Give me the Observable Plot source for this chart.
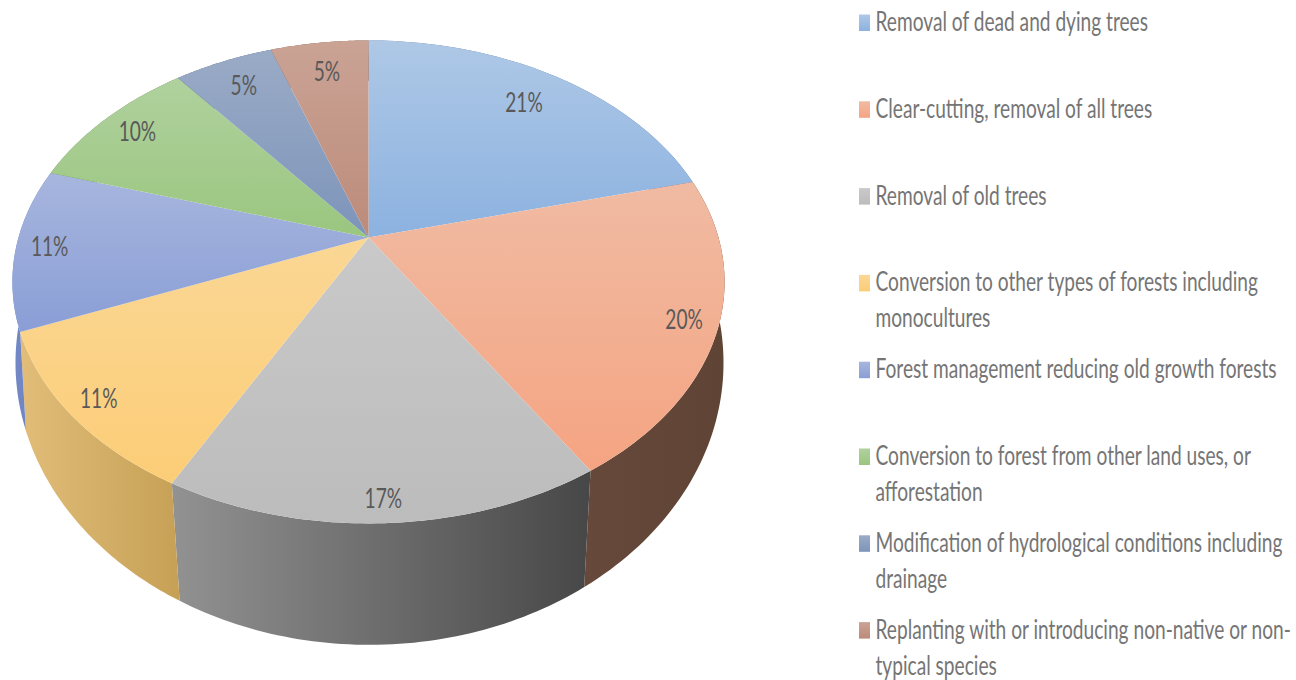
<!DOCTYPE html>
<html><head><meta charset="utf-8">
<style>html,body{margin:0;padding:0;background:#fff}svg{display:block}</style>
<script src="https://cdn.jsdelivr.net/npm/d3@7"></script>
<script src="https://cdn.jsdelivr.net/npm/@observablehq/plot@0.6"></script>
</head><body><div id="chart"></div>
<script>
const categories = [
  "Removal of dead and dying trees",
  "Clear-cutting, removal of all trees",
  "Removal of old trees",
  "Conversion to other types of forests including\nmonocultures",
  "Forest management reducing old growth forests",
  "Conversion to forest from other land uses, or\nafforestation",
  "Modification of hydrological conditions including\ndrainage",
  "Replanting with or introducing non-native or non-\ntypical species"
];
// Shares; the chart prints them rounded
const values = [21, 20, 16.8, 11.05, 10.85, 9.6, 5.4, 5.3];
const topLight = ["#aec8e6","#f0bba3","#c9c9c9","#fad795","#a7b6de","#b0d19e","#9aabc6","#caa395"];
const topDeep  = ["#8cb2e0","#f5a482","#bcbcbc","#fccd77","#8a9ed6","#9ac67f","#7d94ba","#bc8b7a"];
const wallLight = ["#5f7ba8","#66493a","#929292","#e2bd79","#7389c6","#6a8d55","#566781","#80594c"];
const wallDeep  = ["#55719f","#5f4334","#474747","#c5a055","#6a80bf","#5f824c","#4d5d75","#754f43"];
const labelReach = [0.81, 0.91, 0.93, 0.92, 0.905, 0.87, 0.84, 0.825];

// Perspective of the pie disc: centre, half axes and foreshortening of the top and bottom faces
const topFace = {cx: 368, cy: 237, a: 350, b: 233.3, k: -0.184};
const baseFace = {cx: 369, cy: 320, a: 350, b: 275.7, k: -0.15};
const project = (f, theta, r = 1) => {
  const u = r * Math.sin(theta), v = -r * Math.cos(theta), d = 1 + f.k * v;
  return {x: f.cx + f.a * u / d, y: f.cy + f.b * v / d};
};
const total = d3.sum(values);
const cum = d3.cumsum(values);
const turn = (p) => (p / total) * 2 * Math.PI;
const slices = values.map((v, i) => ({i, start: turn(cum[i] - v), end: turn(cum[i]), mid: turn(cum[i] - v / 2)}));
const arc = (f, s) => d3.range(61).map((j) => project(f, s.start + (s.end - s.start) * j / 60));

const topRows = slices.flatMap((s) =>
  [{...project(topFace, 0, 0)}, ...arc(topFace, s)].map((p) => ({...p, fill: `url(#top${s.i})`})));
const wallRows = slices.flatMap((s) =>
  [...arc(topFace, s), ...arc(baseFace, s).reverse()].map((p) => ({...p, fill: `url(#wall${s.i})`})));
const labelRows = slices.map((s) => ({
  ...project(topFace, s.mid, labelReach[s.i]), text: `${Math.round(values[s.i])}%`
}));

const legendX = 875, legendTop = 23, legendStep = 86.8;
const legendRows = categories.map((c, i) => ({
  text: c, y: legendTop + legendStep * i, fill: `url(#top${i})`
}));
const font = "Lato,'Open Sans',sans-serif";

const plot = Plot.plot({
  width: 1296, height: 680, margin: 0,
  x: {type: "linear", domain: [0, 1296], range: [0, 1296], axis: null},
  y: {type: "linear", domain: [0, 680], range: [0, 680], axis: null},
  color: {type: "identity"},
  style: {background: "#fff"},
  marks: [
    Plot.line(wallRows, {x: "x", y: "y", z: "fill", fill: "fill", stroke: "none"}),
    Plot.line(topRows, {x: "x", y: "y", z: "fill", fill: "fill", stroke: "none"}),
    Plot.text(labelRows, {x: "x", y: "y", text: "text", fill: "#595959", fontSize: 24, fontFamily: font}),
    Plot.rect(legendRows, {x1: () => legendX - 16, x2: () => legendX - 5,
      y1: (d) => d.y - 8.5, y2: (d) => d.y + 8, fill: "fill"}),
    Plot.text(legendRows, {x: () => legendX, y: (d) => d.y - 18, text: "text", fill: "#757575",
      textAnchor: "start", lineAnchor: "top", lineHeight: 1.364, fontSize: 24, fontFamily: font})
  ]
});

// The reference's type is condensed and tall: reshape every text around its own anchor
d3.select(plot).selectAll("text").attr("transform", function () {
  return `${this.getAttribute("transform") || ""} scale(0.797,1.1)`;
});

const defs = d3.select(plot).insert("defs", ":first-child");
const grad = (id, x2, y2, a, b) => {
  const g = defs.append("linearGradient").attr("id", id).attr("x1", 0).attr("y1", 0).attr("x2", x2).attr("y2", y2);
  g.append("stop").attr("offset", "0%").attr("stop-color", a);
  g.append("stop").attr("offset", "100%").attr("stop-color", b);
};
values.forEach((_, i) => {
  grad(`top${i}`, 0, 1, topLight[i], topDeep[i]);
  grad(`wall${i}`, 1, 0, wallLight[i], wallDeep[i]);
});
document.getElementById("chart").append(plot);
</script></body></html>
